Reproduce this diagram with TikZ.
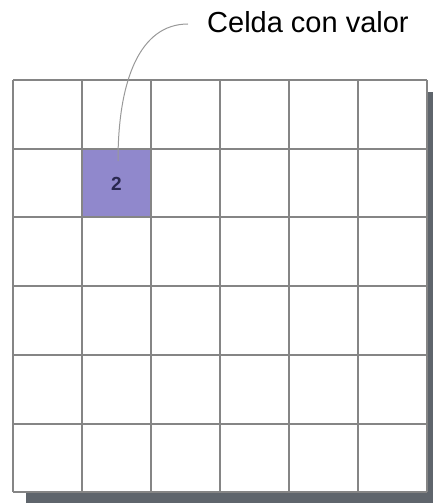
\documentclass[tikz,border=0pt]{standalone}
\usepackage{fontspec}
\setmainfont{Liberation Sans}
\definecolor{gridc}{HTML}{858585}
\definecolor{shadowc}{HTML}{5F656C}
\definecolor{cellc}{HTML}{9088CC}
\definecolor{numc}{HTML}{2A2850}
\begin{document}
\begin{tikzpicture}[x=1pt,y=-1pt,
  gridline/.style={draw=gridc,line width=1.8pt},
  label/.style={font=\fontsize{29}{33}\selectfont,anchor=base west,inner sep=0pt},
  leader/.style={draw=gray!80,line width=1pt}]
\useasboundingbox (0,0) rectangle (433,503);
% shadow
\fill[shadowc] (26,92) rectangle (433,503);
% white board
\fill[white] (13,80) rectangle (427,492);
% value cell
\fill[cellc] (82,149) rectangle (151,217);
% grid
\foreach \x in {13,82,151,220,289,358,427} \draw[gridline] (\x,80) -- (\x,492);
\foreach \y in {80,149,217,286,355,424,492} \draw[gridline] (13,\y) -- (427,\y);
\node[font=\fontsize{19}{22}\selectfont\bfseries,text=numc] (v) at (116.5,184) {2};
\coordinate (s) at (118,161);
\node[label] (t) at (207,33) {Celda con valor};
\draw[leader] (s) .. controls (118,80) and (140,24) .. (188,24);
\end{tikzpicture}
\end{document}
